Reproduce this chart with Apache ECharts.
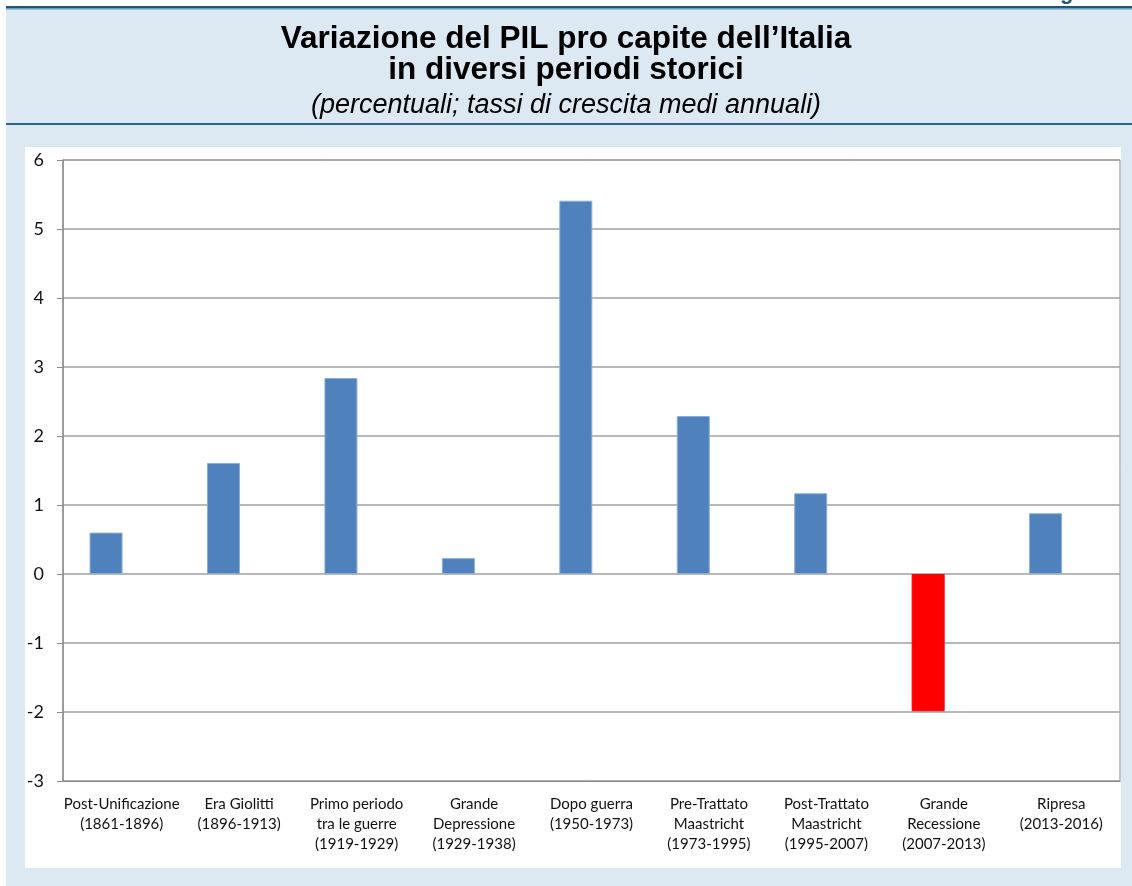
<!DOCTYPE html>
<html>
<head>
<meta charset="utf-8">
<script src="https://cdn.jsdelivr.net/npm/echarts@6/dist/echarts.min.js"></script>
<style>
  html, body { margin: 0; padding: 0; background: #fff; }
  .box { width: 1132px; height: 886px; }
</style>
</head>
<body>
<div class="box"></div>
<script>
// periodi storici (etichette asse x)
const periodi = [
    "Post-Unificazione\n(1861-1896)",
    "Era Giolitti\n(1896-1913)",
    "Primo periodo\ntra le guerre\n(1919-1929)",
    "Grande\nDepressione\n(1929-1938)",
    "Dopo guerra\n(1950-1973)",
    "Pre-Trattato\nMaastricht\n(1973-1995)",
    "Post-Trattato\nMaastricht\n(1995-2007)",
    "Grande\nRecessione\n(2007-2013)",
    "Ripresa\n(2013-2016)"
];
// tassi di crescita medi annui del PIL pro capite (%)
const crescita = [0.6, 1.61, 2.84, 0.23, 5.41, 2.29, 1.17, -1.99, 0.88];
const yTicks = { min: -3, max: 6, step: 1 };

let mycharts = echarts.init(document.querySelector(".box"));
mycharts.setOption({
    backgroundColor: "#ffffff",
    animation: false,
    graphic: [
        { type: "rect", z: -10, shape: { x: 6, y: 6, width: 1126, height: 880 }, style: { fill: "#dde9f2" } },
        { type: "rect", z: -9, shape: { x: 6, y: 6, width: 1126, height: 2.5 }, style: { fill: "#1d5675" } },
        { type: "rect", z: -9, shape: { x: 6, y: 8.5, width: 1126, height: 1 }, style: { fill: "#5d97b5" } },
        { type: "rect", z: -9, shape: { x: 6, y: 123, width: 1126, height: 2 }, style: { fill: "#2a6585" } },
        { type: "rect", z: -8, shape: { x: 25, y: 147, width: 1096, height: 721 }, style: { fill: "#ffffff" } },
        { type: "text", z: -7, left: 1060, top: -18, style: { text: "g", fill: "#1d5675", font: "bold 22px 'Liberation Sans'" } }
    ],
    title: {
        text: "Variazione del PIL pro capite dell’Italia\nin diversi periodi storici",
        subtext: "(percentuali; tassi di crescita medi annuali)",
        left: "center",
        top: 19,
        itemGap: 4,
        textStyle: {
            fontFamily: "Liberation Sans",
            fontWeight: "bold",
            fontSize: 31.5,
            lineHeight: 31,
            color: "#000"
        },
        subtextStyle: {
            fontFamily: "Liberation Sans",
            fontStyle: "italic",
            fontSize: 27,
            lineHeight: 28,
            color: "#000"
        }
    },
    grid: {
        left: 63,
        right: 12,
        top: 160,
        bottom: 105,
        show: true,
        borderColor: "#8c8c8c",
        borderWidth: 1,
        backgroundColor: "transparent"
    },
    xAxis: {
        type: "category",
        data: periodi,
        axisLine: { onZero: false, lineStyle: { color: "#8c8c8c", width: 1 } },
        axisTick: { show: false },
        axisLabel: {
            interval: 0,
            margin: 13,
            fontFamily: "Lato",
            fontSize: 15,
            lineHeight: 20,
            color: "#111"
        }
    },
    yAxis: {
        type: "value",
        min: yTicks.min,
        max: yTicks.max,
        interval: yTicks.step,
        axisLine: { show: true, lineStyle: { color: "#8c8c8c", width: 1.5 } },
        axisTick: { show: true, length: 6, lineStyle: { color: "#8c8c8c" } },
        splitLine: { lineStyle: { color: "#a0a0a0", width: 1.5 } },
        axisLabel: {
            margin: 19,
            fontFamily: "Lato",
            fontSize: 18,
            color: "#111"
        }
    },
    series: [
        {
            name: "PIL pro capite",
            type: "bar",
            barWidth: 33,
            barGap: "-5%",
            data: crescita.map(function (v) {
                return {
                    value: v,
                    itemStyle: v < 0
                        ? { color: "#ff0000", borderColor: "#ff0000" }
                        : { color: "#4f81bd", borderColor: "#8aaed6" }
                };
            }),
            itemStyle: { borderWidth: 1 }
        },
        {
            // serie vuota: nel grafico originale la colonna occupa solo la metà sinistra
            name: "vuota",
            type: "bar",
            barWidth: 33,
            data: []
        }
    ]
});
</script>
</body>
</html>
